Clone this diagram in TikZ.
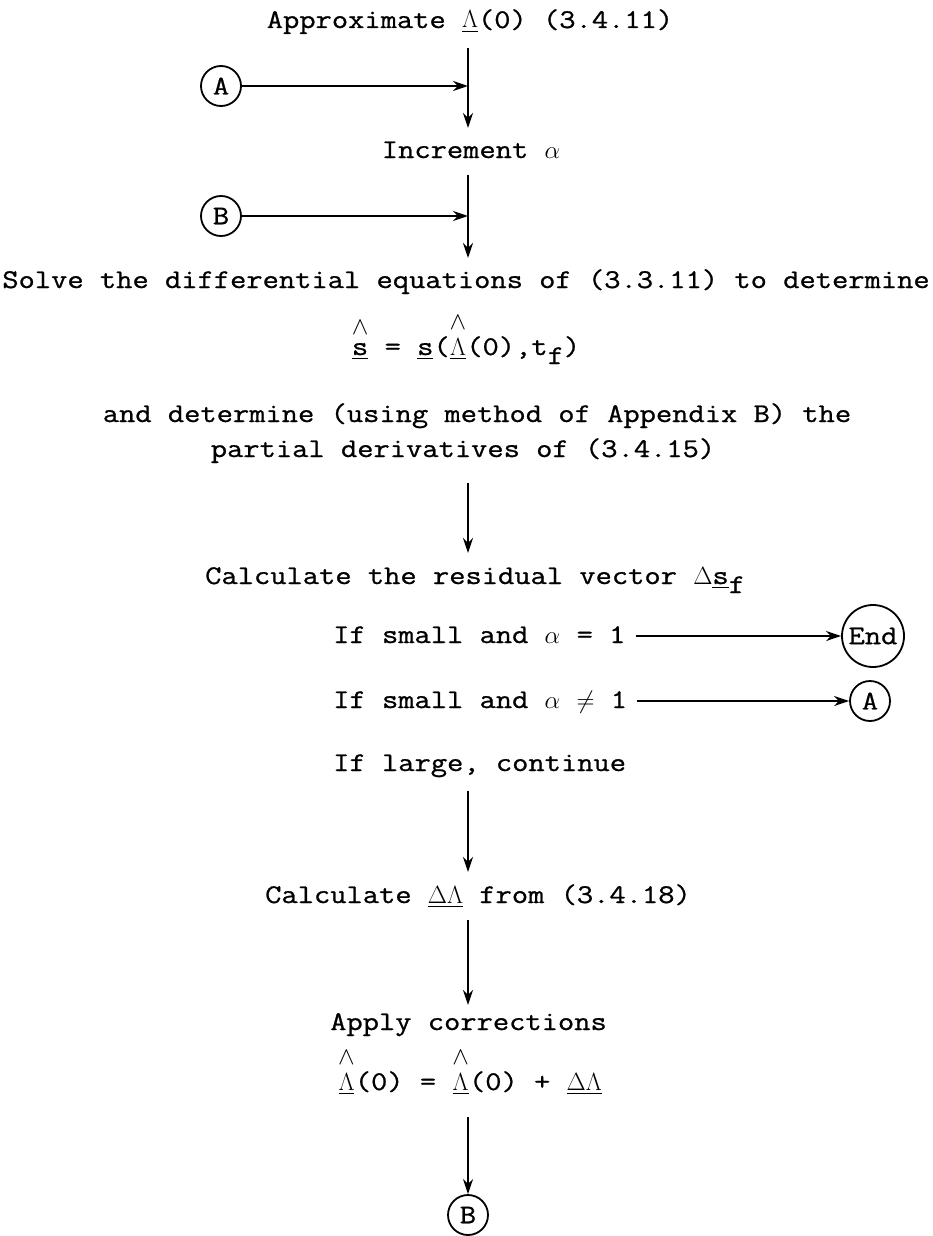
\documentclass[tikz,border=0pt]{standalone}
\usepackage{amsmath}
\usepackage{fontspec}
\setmonofont{Latin Modern Mono}[FakeStretch=1.17,FakeBold=0.9]
\usetikzlibrary{arrows.meta}
\newcommand{\vecu}[1]{\underline{#1}}
\newcommand{\hatvec}[1]{\ensuremath{\overset{\raisebox{4pt}{$\textstyle\wedge$}}{\underline{#1}}}}
\newcommand{\lowsub}[1]{\raisebox{-9pt}{#1}}

\begin{document}
\begin{tikzpicture}[x=1pt,y=-1pt,>={Stealth[length=15pt,width=10pt]},
  txt/.style={anchor=base,inner sep=0pt,font=\ttfamily\fontsize{27}{32}\selectfont},
  conn/.style={circle,draw,line width=1.8pt,minimum size=40pt,inner sep=0pt,font=\ttfamily\fontsize{27}{32}\selectfont},
  flow/.style={->,line width=2.3pt}]
\useasboundingbox (0,0) rectangle (933,1236);
\coordinate (spine) at (468,0);
% text of the chart
\node[txt] (approx) at (470,28) {Approximate $\vecu{\Lambda}$(0) (3.4.11)};
\node[txt] (incr) at (471,158) {Increment $\alpha$};
\node[txt] (solve) at (466,288) {Solve the differential equations of (3.3.11) to determine};
\node[txt] (seq) at (466,355) {$\hatvec{\texttt{s}}$ = $\vecu{\texttt{s}}$($\hatvec{\Lambda}$(0),t\lowsub{f})};
\node[txt] (anddet) at (477,422) {and determine (using method of Appendix B) the};
\node[txt] (partial) at (463,457) {partial derivatives of (3.4.15)};
\node[txt,anchor=base west] (resid) at (205,584) {Calculate the residual vector $\Delta\vecu{\texttt{s}}$\lowsub{f}};
\node[txt,anchor=base west] (small1) at (333,643) {If small and $\alpha$ = 1};
\node[txt,anchor=base west] (small2) at (333,708) {If small and $\alpha$ $\neq$ 1};
\node[txt,anchor=base west] (large) at (333,771) {If large, continue};
\node[txt,anchor=base west] (calcdl) at (265,903) {Calculate $\vecu{\Delta\Lambda}$ from (3.4.18)};
\node[txt,anchor=base west] (apply) at (330,1030) {Apply corrections};
\node[txt] (corr) at (470,1090) {$\hatvec{\Lambda}$(0) = $\hatvec{\Lambda}$(0) + $\vecu{\Delta\Lambda}$};
% connectors
\node[conn] (A1) at (221,86) {A};
\node[conn] (B1) at (221,216) {B};
\node[conn,minimum size=62pt] (End) at (873,636) {End};
\node[conn] (A2) at (870,701) {A};
\node[conn] (B2) at (468,1215) {B};
\draw[flow,shorten <=20pt,shorten >=30pt] (approx.base -| spine) -- (incr.base -| spine);
\draw[flow,shorten <=17pt,shorten >=30pt] (incr.base -| spine) -- (solve.base -| spine);
\draw[flow,shorten <=26pt,shorten >=31pt] (partial.base -| spine) -- (resid.base -| spine);
\draw[flow,shorten <=20pt,shorten >=31pt] (large.base -| spine) -- (calcdl.base -| spine);
\draw[flow,shorten <=17pt,shorten >=25pt] (calcdl.base -| spine) -- (apply.base -| spine);
\draw[flow,shorten <=27pt] (corr.base -| spine) -- (B2);
\draw[flow] (A1) -- (A1 -| spine);
\draw[flow] (B1) -- (B1 -| spine);
\draw[flow,shorten <=10pt] ([yshift=7pt]small1.base east) -- (End);
\draw[flow,shorten <=10pt] ([yshift=7pt]small2.base east) -- (A2);
\end{tikzpicture}
\end{document}
